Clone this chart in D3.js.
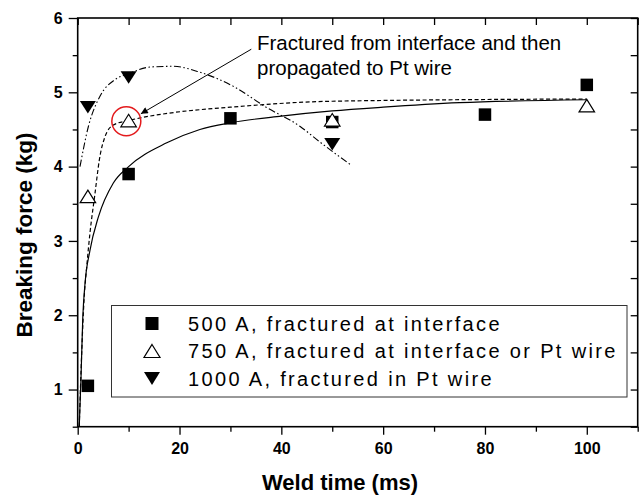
<!DOCTYPE html>
<html>
<head>
<meta charset="utf-8">
<script src="https://cdn.jsdelivr.net/npm/d3@7"></script>
<style>
  body { margin: 0; background: #fff; }
  svg { display: block; font-family: "Liberation Sans", Arial, sans-serif; }
</style>
</head>
<body>
<svg id="chart" width="640" height="496"></svg>
<script>
// measured points
const time500 = [2, 10, 30, 50, 80, 100];
const force500 = [1.05, 3.9, 4.65, 4.6, 4.7, 5.1];
const time750 = [2, 10, 50, 100];
const force750 = [3.6, 4.62, 4.63, 4.82];
const time1000 = [2, 10, 50];
const force1000 = [4.8, 5.2, 4.3];

// fitted curves
const fit500X = [0.3, 0.65, 1.0, 1.43, 2.4, 4.05, 7, 10, 17.5, 24, 30, 40, 50, 60, 75, 100];
const fit500Y = [0.5, 1.16, 1.97, 2.42, 2.87, 3.32, 3.78, 4.0, 4.32, 4.5, 4.59, 4.68, 4.75, 4.8, 4.86, 4.9];
const fit750X = [0.3, 0.8, 1.24, 1.77, 2.4, 3.4, 4.25, 5.4, 7, 10, 12.6, 18, 30, 50, 100];
const fit750Y = [0.5, 1.52, 2.2, 2.65, 3.1, 3.64, 4.09, 4.41, 4.56, 4.62, 4.66, 4.72, 4.8, 4.88, 4.91];
const fit1000X = [0.45, 2.1, 4.4, 7.3, 10, 14.2, 18.8, 24, 30.6, 37, 43.7, 47.6, 53.5];
const fit1000Y = [4.0, 4.54, 4.95, 5.17, 5.25, 5.34, 5.35, 5.27, 5.08, 4.8, 4.54, 4.33, 4.03];

const xMajor = [0, 20, 40, 60, 80, 100];
const xMinor = [10, 30, 50, 70, 90, 110];
const yMajor = [1, 2, 3, 4, 5, 6];
const yMinor = [0.5, 1.5, 2.5, 3.5, 4.5, 5.5];

const legendLabels = [
  "500 A, fractured at interface",
  "750 A, fractured at interface or Pt wire",
  "1000 A, fractured in Pt wire"
];
const noteLines = ["Fractured from interface and then", "propagated to Pt wire"];

const svg = d3.select("#chart");
const plotLeft = 77.7, plotRight = 637.7, plotTop = 18, plotBottom = 426.7;

const x = d3.scaleLinear().domain([0, 110]).range([plotLeft, plotRight]);
const y = d3.scaleLinear().domain([0.5, 6]).range([plotBottom, plotTop]);

const defs = svg.append("defs");
defs.append("clipPath").attr("id", "plot")
  .append("rect")
  .attr("x", plotLeft).attr("y", plotTop)
  .attr("width", plotRight - plotLeft).attr("height", plotBottom - plotTop);

defs.append("marker")
  .attr("id", "arrow")
  .attr("viewBox", "0 0 10 10")
  .attr("refX", 10).attr("refY", 5)
  .attr("markerWidth", 10).attr("markerHeight", 7)
  .attr("markerUnits", "userSpaceOnUse")
  .attr("orient", "auto")
  .append("path")
  .attr("d", "M0,0L10,5L0,10Z")
  .attr("fill", "#000");

function styleAxis(g) {
  g.select(".domain").remove();
  g.selectAll("line").attr("stroke", "#000").attr("stroke-width", 1.3);
  g.selectAll("text")
    .attr("fill", "#000")
    .style("font-size", "16px")
    .style("font-weight", "bold");
}

// left axis
svg.append("g").attr("transform", `translate(${plotLeft},0)`)
  .call(d3.axisLeft(y).tickValues(yMajor).tickSize(9).tickPadding(6).tickFormat(d3.format("d")))
  .call(styleAxis);
svg.append("g").attr("transform", `translate(${plotLeft},0)`)
  .call(d3.axisLeft(y).tickValues(yMinor).tickSize(5).tickFormat(""))
  .call(styleAxis);

// bottom axis
svg.append("g").attr("transform", `translate(0,${plotBottom})`)
  .call(d3.axisBottom(x).tickValues(xMajor).tickSize(8).tickPadding(8).tickFormat(d3.format("d")))
  .call(styleAxis);
svg.append("g").attr("transform", `translate(0,${plotBottom})`)
  .call(d3.axisBottom(x).tickValues(xMinor).tickSize(5).tickFormat(""))
  .call(styleAxis);

// top and right, ticks inward
svg.append("g").attr("transform", `translate(0,${plotTop})`)
  .call(d3.axisTop(x).tickValues(xMajor.concat(xMinor)).tickSize(-7).tickFormat(""))
  .call(styleAxis);
svg.append("g").attr("transform", `translate(${plotRight},0)`)
  .call(d3.axisRight(y).tickValues(yMajor.concat(yMinor)).tickSize(-7).tickFormat(""))
  .call(styleAxis);

svg.append("rect")
  .attr("x", plotLeft).attr("y", plotTop)
  .attr("width", plotRight - plotLeft).attr("height", plotBottom - plotTop)
  .attr("fill", "none").attr("stroke", "#000").attr("stroke-width", 1.6);

// curves
const line = d3.line()
  .x(d => x(d[0]))
  .y(d => y(d[1]))
  .curve(d3.curveMonotoneX);

const curves = svg.append("g").attr("clip-path", "url(#plot)");
curves.append("path")
  .attr("d", line(d3.zip(fit500X, fit500Y)))
  .attr("fill", "none").attr("stroke", "#000").attr("stroke-width", 1.2);
curves.append("path")
  .attr("d", line(d3.zip(fit750X, fit750Y)))
  .attr("fill", "none").attr("stroke", "#000").attr("stroke-width", 1.2)
  .attr("stroke-dasharray", "4,2.5");
curves.append("path")
  .attr("d", line(d3.zip(fit1000X, fit1000Y)))
  .attr("fill", "none").attr("stroke", "#000").attr("stroke-width", 1.1)
  .attr("stroke-dasharray", "7,2.5,1.5,2.5,1.5,2.5");

// marker shapes
const square = s => `M${-s / 2},${-s / 2}h${s}v${s}h${-s}Z`;
const triUp = (w, h) => `M0,${-h / 2}L${w / 2},${h / 2}L${-w / 2},${h / 2}Z`;
const triDown = (w, h) => `M0,${h / 2}L${w / 2},${-h / 2}L${-w / 2},${-h / 2}Z`;

svg.append("g").selectAll("path")
  .data(d3.zip(time500, force500))
  .join("path")
  .attr("transform", d => `translate(${x(d[0])},${y(d[1])})`)
  .attr("d", square(12.5))
  .attr("fill", "#000");

svg.append("g").selectAll("path")
  .data(d3.zip(time750, force750))
  .join("path")
  .attr("transform", d => `translate(${x(d[0])},${y(d[1])})`)
  .attr("d", triUp(15.5, 12.5))
  .attr("fill", "#fff").attr("stroke", "#000").attr("stroke-width", 1.2);

svg.append("g").selectAll("path")
  .data(d3.zip(time1000, force1000))
  .join("path")
  .attr("transform", d => `translate(${x(d[0])},${y(d[1])})`)
  .attr("d", triDown(16, 12.5))
  .attr("fill", "#000");

// annotation
svg.append("circle")
  .attr("cx", x(9.55)).attr("cy", y(4.61)).attr("r", 14.5)
  .attr("fill", "none").attr("stroke", "#e31a1c").attr("stroke-width", 1.5);

svg.append("line")
  .attr("x1", x(34.1)).attr("y1", y(5.58))
  .attr("x2", x(12.4)).attr("y2", y(4.71))
  .attr("stroke", "#000").attr("stroke-width", 1)
  .attr("marker-end", "url(#arrow)");

svg.append("g").selectAll("text")
  .data(noteLines)
  .join("text")
  .attr("x", 257)
  .attr("y", (d, i) => 50 + i * 25)
  .style("font-size", "20.5px")
  .text(d => d);

// legend
const legend = svg.append("g");
legend.append("rect")
  .attr("x", 111.5).attr("y", 305.5)
  .attr("width", 515.5).attr("height", 91.5)
  .attr("fill", "#fff").attr("stroke", "#333").attr("stroke-width", 1);

const legendShapes = [
  { d: square(13), fill: "#000", stroke: "none" },
  { d: triUp(16, 13), fill: "#fff", stroke: "#000" },
  { d: triDown(16, 13), fill: "#000", stroke: "none" }
];

legendLabels.forEach((label, i) => {
  const cy = 323.5 + i * 27.5;
  legend.append("path")
    .attr("transform", `translate(152,${cy})`)
    .attr("d", legendShapes[i].d)
    .attr("fill", legendShapes[i].fill)
    .attr("stroke", legendShapes[i].stroke)
    .attr("stroke-width", 1.2);
  legend.append("text")
    .attr("x", 188).attr("y", cy).attr("dy", "0.36em")
    .style("font-size", "20px")
    .style("letter-spacing", "2.35px")
    .text(label);
});

// axis titles
svg.append("text")
  .attr("x", 340).attr("y", 490)
  .attr("text-anchor", "middle")
  .style("font-size", "22px").style("font-weight", "bold")
  .text("Weld time (ms)");

svg.append("text")
  .attr("transform", "translate(32,235) rotate(-90)")
  .attr("text-anchor", "middle")
  .style("font-size", "22.5px").style("font-weight", "bold")
  .text("Breaking force (kg)");
</script>
</body>
</html>
